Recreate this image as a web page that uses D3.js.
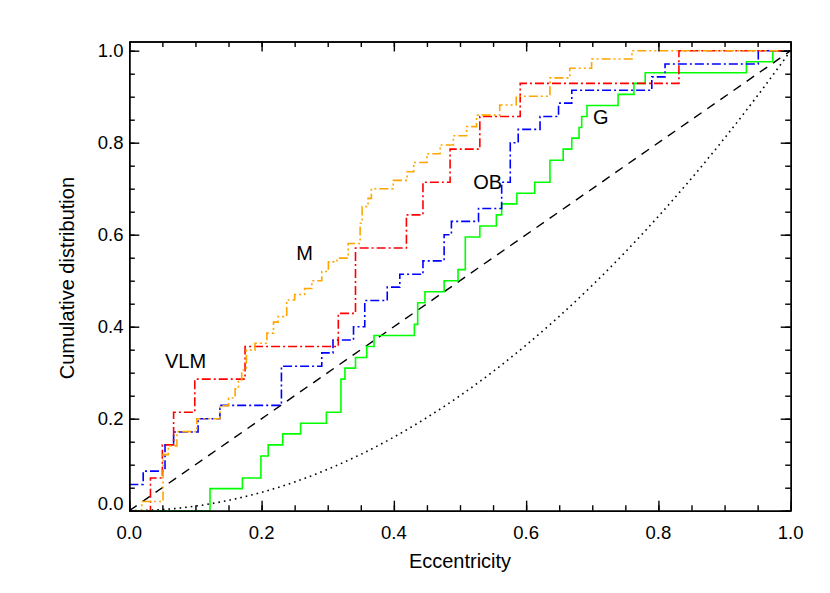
<!DOCTYPE html>
<html><head><meta charset="utf-8">
<script src="https://cdn.jsdelivr.net/npm/d3@7"></script>
<style>
body{margin:0;background:#fff}
text{font-family:"Liberation Sans",Arial,Helvetica,sans-serif;fill:#000}
</style>
</head><body>
<svg id="chart" width="830" height="593"></svg>
<script>
// ---------- data ----------
const xTickValues = [0.0, 0.2, 0.4, 0.6, 0.8, 1.0];
const yTickValues = [0.0, 0.2, 0.4, 0.6, 0.8, 1.0];
const xTickLabels = ["0.0", "0.2", "0.4", "0.6", "0.8", "1.0"];
const yTickLabels = ["0.0", "0.2", "0.4", "0.6", "0.8", "1.0"];

// VLM (red): eccentricity where the CDF jumps, and CDF level after the jump
const vlmStart = 0;
const vlmE = [0.032, 0.050, 0.067, 0.099, 0.175, 0.316, 0.342, 0.419, 0.444, 0.485, 0.530, 0.591, 0.831];
const vlmF = [0.071, 0.143, 0.214, 0.286, 0.357, 0.429, 0.571, 0.643, 0.714, 0.786, 0.857, 0.929, 1.000];

// M (orange)
const mStart = 0;
const mE = [0.019, 0.051, 0.059, 0.072, 0.102, 0.137, 0.150, 0.160, 0.165, 0.170, 0.177, 0.190, 0.208, 0.218, 0.225, 0.238, 0.250, 0.265, 0.276, 0.291, 0.301, 0.314, 0.331, 0.349, 0.352, 0.361, 0.366, 0.399, 0.420, 0.430, 0.450, 0.470, 0.490, 0.510, 0.525, 0.560, 0.585, 0.636, 0.666, 0.699, 0.760];
const mF = [0.020, 0.122, 0.141, 0.172, 0.200, 0.228, 0.245, 0.265, 0.284, 0.306, 0.349, 0.364, 0.386, 0.410, 0.422, 0.458, 0.470, 0.483, 0.500, 0.520, 0.541, 0.549, 0.581, 0.625, 0.661, 0.679, 0.700, 0.718, 0.737, 0.757, 0.776, 0.795, 0.815, 0.835, 0.860, 0.882, 0.901, 0.941, 0.962, 0.982, 1.000];

// OB (blue)
const obStart = 0.057;
const obE = [0.021, 0.054, 0.067, 0.104, 0.137, 0.230, 0.291, 0.308, 0.339, 0.356, 0.390, 0.409, 0.444, 0.476, 0.487, 0.528, 0.563, 0.576, 0.588, 0.621, 0.649, 0.669, 0.790, 0.810, 0.951];
const obF = [0.086, 0.143, 0.171, 0.200, 0.229, 0.314, 0.343, 0.371, 0.400, 0.457, 0.486, 0.514, 0.543, 0.600, 0.629, 0.657, 0.714, 0.800, 0.829, 0.857, 0.886, 0.914, 0.943, 0.971, 1.000];

// G (green)
const gStart = 0;
const gE = [0.122, 0.171, 0.199, 0.210, 0.232, 0.259, 0.298, 0.320, 0.326, 0.342, 0.359, 0.370, 0.431, 0.436, 0.447, 0.476, 0.497, 0.508, 0.530, 0.555, 0.563, 0.586, 0.613, 0.636, 0.656, 0.669, 0.680, 0.684, 0.692, 0.739, 0.763, 0.780, 0.933, 0.973];
const gF = [0.048, 0.071, 0.119, 0.143, 0.167, 0.190, 0.214, 0.286, 0.310, 0.333, 0.357, 0.381, 0.405, 0.452, 0.476, 0.500, 0.524, 0.595, 0.619, 0.643, 0.667, 0.690, 0.714, 0.762, 0.786, 0.810, 0.833, 0.857, 0.881, 0.905, 0.929, 0.952, 0.976, 1.000];

// reference curves: uniform (dashed) and thermal (dotted)
const uniformE = [0, 1];
const uniformF = [0, 1];
const thermalE = [0, 0.05, 0.1, 0.15, 0.2, 0.25, 0.3, 0.35, 0.4, 0.45, 0.5, 0.55, 0.6, 0.65, 0.7, 0.75, 0.8, 0.85, 0.9, 0.95, 1.0];
const thermalF = [0, 0.0025, 0.01, 0.0225, 0.04, 0.0625, 0.09, 0.1225, 0.16, 0.2025, 0.25, 0.3025, 0.36, 0.4225, 0.49, 0.5625, 0.64, 0.7225, 0.81, 0.9025, 1.0];

const annotations = [
  {text: "VLM", e: 0.085, f: 0.31},
  {text: "M",   e: 0.265, f: 0.545},
  {text: "OB",  e: 0.542, f: 0.70},
  {text: "G",   e: 0.713, f: 0.84}
];

// ---------- layout ----------
const L = 129.3, R = 790.7, T = 41.5, B = 510.7;
const svg = d3.select("#chart");
const x = d3.scaleLinear().domain([0, 1]).range([L, R]);
const y = d3.scaleLinear().domain([0, 1.02]).range([B, T]);

svg.append("defs").append("clipPath").attr("id", "clip")
  .append("rect").attr("x", L).attr("y", T).attr("width", R - L).attr("height", B - T);

const plot = svg.append("g").attr("clip-path", "url(#clip)");

function stepPoints(start, es, fs) {
  const pts = [[0, start]];
  es.forEach((e, i) => pts.push([e, fs[i]]));
  pts.push([1, fs[fs.length - 1]]);
  return pts;
}
const stepLine = d3.line().x(d => x(d[0])).y(d => y(d[1])).curve(d3.curveStepAfter);
const smoothLine = d3.line().x(d => x(d[0])).y(d => y(d[1])).curve(d3.curveMonotoneX);

// reference lines
plot.append("path").datum(d3.zip(uniformE, uniformF))
  .attr("d", d3.line().x(d => x(d[0])).y(d => y(d[1])))
  .attr("fill", "none").attr("stroke", "#000").attr("stroke-width", 1.4)
  .attr("stroke-dasharray", "9,7");
plot.append("path").datum(d3.zip(thermalE, thermalF))
  .attr("d", smoothLine)
  .attr("fill", "none").attr("stroke", "#000").attr("stroke-width", 1.6)
  .attr("stroke-dasharray", "1.6,4");

const series = [
  {start: gStart, e: gE, f: gF, color: "#00ff00", dash: null},
  {start: obStart, e: obE, f: obF, color: "#0000ff", dash: "9,3,2,3"},
  {start: vlmStart, e: vlmE, f: vlmF, color: "#ff0000", dash: "9,3,2,3"},
  {start: mStart, e: mE, f: mF, color: "#ffa500", dash: "9,3,2,3,2,3"}
];
series.forEach(s => {
  plot.append("path").datum(stepPoints(s.start, s.e, s.f))
    .attr("d", stepLine)
    .attr("fill", "none").attr("stroke", s.color).attr("stroke-width", 1.6)
    .attr("stroke-dasharray", s.dash);
});

// ---------- axes (box with inward ticks on all sides) ----------
const minorX = d3.range(0, 1.0001, 0.05);
const minorY = d3.range(0, 1.0001, 0.05);
const axStyle = g => { g.selectAll("path.domain").attr("stroke", "#000").attr("stroke-width", 1.4);
  g.selectAll(".tick line").attr("stroke", "#000").attr("stroke-width", 1.4); };

function addAxis(axisFn, scale, vals, size, transform) {
  const a = axisFn(scale).tickValues(vals).tickSizeInner(-size).tickSizeOuter(0).tickFormat("");
  const g = svg.append("g").attr("transform", transform).call(a).call(axStyle);
  g.selectAll("text").remove();
  return g;
}
// minor ticks
addAxis(d3.axisBottom, x, minorX, 5.5, `translate(0,${B})`);
addAxis(d3.axisTop, x, minorX, 5.5, `translate(0,${T})`);
addAxis(d3.axisLeft, y, minorY, 5.5, `translate(${L},0)`);
addAxis(d3.axisRight, y, minorY, 5.5, `translate(${R},0)`);
// major ticks
addAxis(d3.axisBottom, x, xTickValues, 10, `translate(0,${B})`);
addAxis(d3.axisTop, x, xTickValues, 10, `translate(0,${T})`);
addAxis(d3.axisLeft, y, yTickValues, 10, `translate(${L},0)`);
addAxis(d3.axisRight, y, yTickValues, 10, `translate(${R},0)`);

// tick labels
svg.append("g").selectAll("text").data(xTickValues).join("text")
  .attr("x", d => x(d)).attr("y", 538.5)
  .attr("text-anchor", "middle").attr("font-size", 18.5)
  .text((d, i) => xTickLabels[i]);
svg.append("g").selectAll("text").data(yTickValues).join("text")
  .attr("x", 123.5).attr("y", (d, i) => y(d) + 6.6 - (i === 0 ? 7.5 : 0))
  .attr("text-anchor", "end").attr("font-size", 18.5)
  .text((d, i) => yTickLabels[i]);

// axis titles
svg.append("text").attr("x", (L + R) / 2).attr("y", 567.5)
  .attr("text-anchor", "middle").attr("font-size", 20).text("Eccentricity");
svg.append("text").attr("transform", `translate(74,${(T + B) / 2 + 2}) rotate(-90)`)
  .attr("text-anchor", "middle").attr("font-size", 20).text("Cumulative distribution");

// annotations
svg.append("g").selectAll("text").data(annotations).join("text")
  .attr("x", d => x(d.e)).attr("y", d => y(d.f))
  .attr("text-anchor", "middle").attr("font-size", 20)
  .text(d => d.text);
</script>
</body></html>
